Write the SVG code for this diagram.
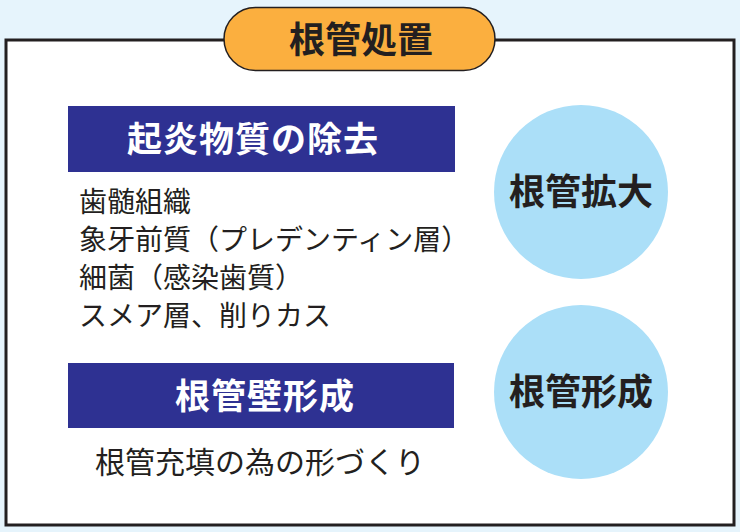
<svg xmlns="http://www.w3.org/2000/svg" width="740" height="532" viewBox="0 0 740 532">
<style>
.jp{font-family:"Noto Sans CJK JP","Noto Sans CJK SC",sans-serif}
.hd{font-weight:bold;fill:#ffffff;font-size:35px;text-anchor:middle;letter-spacing:1px}
.cir{fill:#abdff8}
.ct{font-weight:bold;fill:#231f20;font-size:36px;text-anchor:middle}
.body{fill:#231f20;font-size:28px}
.big{font-size:30px;text-anchor:middle}
</style>
<rect x="0" y="0" width="740" height="532" fill="#e6f4fc"/>
<g id="frame">
<rect x="6" y="40" width="728" height="485" fill="#ffffff" stroke="#231f20" stroke-width="3"/>
</g>
<g id="title">
<rect x="224" y="7.5" width="271" height="63" rx="31.5" fill="#fbaf3f" stroke="#231f20" stroke-width="1.5"/>
<text class="jp" x="361" y="53" font-size="36" font-weight="bold" fill="#231f20" text-anchor="middle">根管処置</text>
</g>
<g id="removal">
<rect x="68" y="106" width="387" height="66" fill="#2e3192"/>
<text class="jp hd" x="253" y="152">起炎物質の除去</text>
<text class="jp body" x="79" y="212">歯髄組織</text>
<text class="jp body" x="79" y="250">象牙前質（プレデンティン層）</text>
<text class="jp body" x="79" y="288">細菌（感染歯質）</text>
<text class="jp body" x="79" y="326">スメア層、削りカス</text>
</g>
<g id="wall">
<rect x="68" y="363" width="386" height="65" fill="#2e3192"/>
<text class="jp hd" x="265" y="409">根管壁形成</text>
<text class="jp body big" x="260" y="473">根管充填の為の形づくり</text>
</g>
<g id="enlarge">
<circle class="cir" cx="581" cy="192" r="87"/>
<text class="jp ct" x="581" y="205">根管拡大</text>
</g>
<g id="shaping">
<circle class="cir" cx="581" cy="392" r="87"/>
<text class="jp ct" x="581" y="405">根管形成</text>
</g>
<g id="connectors"></g>
</svg>
